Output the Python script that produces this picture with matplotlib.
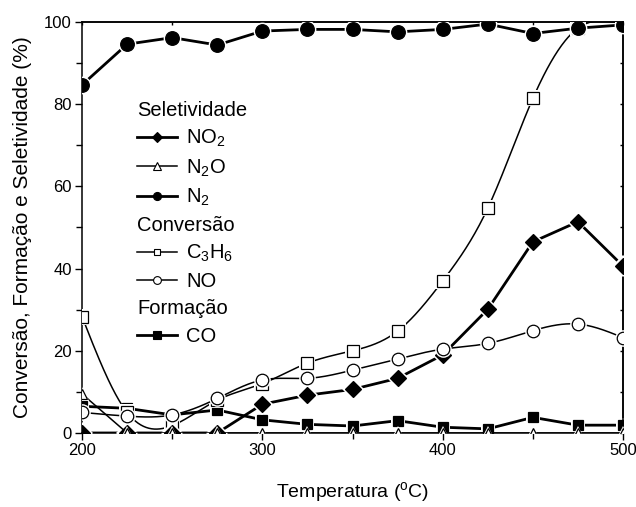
import numpy as np
import matplotlib
matplotlib.use("Agg")
import matplotlib.pyplot as plt
from matplotlib.lines import Line2D
from matplotlib.ticker import MultipleLocator
from matplotlib import transforms as mtransforms

plt.rcParams['font.family'] = ['Liberation Sans', 'DejaVu Sans']
plt.rcParams['mathtext.fontset'] = 'custom'
plt.rcParams['mathtext.rm'] = 'Liberation Sans'

# Temperatures (oC)
temperatura = [200, 225, 250, 275, 300, 325, 350, 375, 400, 425, 450, 475, 500]

# Selectivity (%)
sel_no2 = [0, 0, 0, 0, 7.0, 9.2, 10.6, 13.3, 19.0, 30.1, 46.5, 51.4, 40.6]
sel_n2o = [9.5, 0, 0, 0, 0, 0, 0, 0, 0, 0, 0, 0, 0]
sel_n2 = [84.7, 94.6, 96.2, 94.4, 97.8, 98.2, 98.2, 97.6, 98.2, 99.5, 97.2, 98.5, 99.3]

# Conversion (%)
conv_c3h6 = [28.3, 5.0, 1.8, 8.0, 12.0, 17.0, 20.0, 24.8, 37.0, 54.7, 81.4, 98.5, 99.5]
conv_no = [5.0, 4.1, 4.4, 8.4, 12.9, 13.3, 15.3, 18.0, 20.4, 21.8, 24.9, 26.5, 23.2]

# Formation (%)
form_co = [6.5, 6.0, 4.4, 5.6, 3.2, 2.1, 1.7, 3.0, 1.4, 1.0, 3.8, 1.9, 1.9]

legend_titles = ['Seletividade', 'Conversão', 'Formação']


def natural_spline(x, y, n=600):
    """Smooth connecting curve (natural cubic spline) through the points."""
    x = np.asarray(x, float)
    y = np.asarray(y, float)
    h = np.diff(x)
    m = len(x)
    A = np.zeros((m, m))
    r = np.zeros(m)
    A[0, 0] = A[-1, -1] = 1.0
    for i in range(1, m - 1):
        A[i, i - 1] = h[i - 1]
        A[i, i] = 2 * (h[i - 1] + h[i])
        A[i, i + 1] = h[i]
        r[i] = 6 * ((y[i + 1] - y[i]) / h[i] - (y[i] - y[i - 1]) / h[i - 1])
    M = np.linalg.solve(A, r)
    xs = np.linspace(x[0], x[-1], n)
    k = np.clip(np.searchsorted(x, xs) - 1, 0, m - 2)
    x0, x1 = x[k], x[k + 1]
    hh = x1 - x0
    t0, t1 = x1 - xs, xs - x0
    ys = (M[k] * t0 ** 3 / (6 * hh) + M[k + 1] * t1 ** 3 / (6 * hh)
          + (y[k] / hh - M[k] * hh / 6) * t0 + (y[k + 1] / hh - M[k + 1] * hh / 6) * t1)
    return xs, ys


fig = plt.figure(figsize=(6.36, 5.07), dpi=100)
ax = fig.add_axes([0.129, 0.146, 0.8506, 0.8106])


def draw_series(x, y, marker, ms, filled, lw, z, smooth=False):
    if smooth:
        xs, ys = natural_spline(x, y)
    else:
        xs, ys = x, y
    ax.plot(xs, ys, color='black', lw=lw, zorder=z, solid_capstyle='butt')
    # white gap between the connecting line and each symbol
    ax.plot(x, y, ls='none', marker=marker, ms=ms + 3.0, mfc='white',
            mec='white', mew=0, zorder=z + 0.3)
    ax.plot(x, y, ls='none', marker=marker, ms=ms,
            mfc='black' if filled else 'white', mec='black',
            mew=0.9, zorder=z + 0.6)


draw_series(temperatura, form_co, 's', 7.6, True, 2.0, 2)
draw_series(temperatura, conv_c3h6, 's', 8.0, False, 1.1, 3, smooth=True)
draw_series(temperatura, sel_no2, 'D', 8.6, True, 2.0, 4)
draw_series(temperatura, sel_n2o, '^', 7.5, False, 1.1, 5)
draw_series(temperatura, conv_no, 'o', 9.0, False, 1.1, 6, smooth=True)
draw_series(temperatura, sel_n2, 'o', 9.8, True, 2.0, 7)

ax.set_xlim(200, 500)
ax.set_ylim(0, 100)
ax.xaxis.set_major_locator(MultipleLocator(100))
ax.xaxis.set_minor_locator(MultipleLocator(50))
ax.yaxis.set_major_locator(MultipleLocator(20))
ax.yaxis.set_minor_locator(MultipleLocator(10))
ax.tick_params(which='major', direction='out', length=5, width=1.0,
               labelsize=12, pad=2.5)
ax.tick_params(which='minor', direction='out', length=4, width=1.0)
for s in ax.spines.values():
    s.set_linewidth(1.1)

# inward ticks on the opposite spines
sec_y = ax.secondary_yaxis('right')
sec_y.yaxis.set_major_locator(MultipleLocator(10))
sec_y.tick_params(direction='in', length=2.5, width=1.0, labelright=False)
sec_y.spines['right'].set_linewidth(1.1)
sec_x = ax.secondary_xaxis('top')
sec_x.xaxis.set_major_locator(MultipleLocator(50))
sec_x.tick_params(direction='in', length=2.5, width=1.0, labeltop=False)
sec_x.spines['top'].set_linewidth(1.1)

ax.set_xlabel('Temperatura ($^\\mathregular{o}$C)', fontsize=14)
ax.set_ylabel('Conversão, Formação e Seletividade (%)', fontsize=15)
ax.xaxis.set_label_coords(0.5, -0.115)
ax.yaxis.set_label_coords(-0.092, 0.5)

# legend grouped under section titles
blank = Line2D([], [], ls='none', marker='none')


def handle(marker, ms, filled, lw):
    return Line2D([], [], color='black', lw=lw, marker=marker, ms=ms,
                  mfc='black' if filled else 'white', mec='black', mew=0.8)


handles = [blank,
           handle('D', 5.6, True, 2.0),
           handle('^', 5.2, False, 1.1),
           handle('o', 5.8, True, 2.0),
           blank,
           handle('s', 4.8, False, 1.1),
           handle('o', 5.6, False, 1.1),
           blank,
           handle('s', 5.2, True, 2.0)]
labels = [legend_titles[0],
          'NO$_\\mathregular{2}$', 'N$_\\mathregular{2}$O', 'N$_\\mathregular{2}$',
          legend_titles[1],
          'C$_\\mathregular{3}$H$_\\mathregular{6}$', 'NO',
          legend_titles[2],
          'CO']
hl, htp, lfs = 2.0, 0.45, 14.5
leg = ax.legend(handles, labels, loc='upper left', bbox_to_anchor=(0.1017, 0.808),
                frameon=False, fontsize=lfs, handlelength=hl, handletextpad=htp,
                labelspacing=0.4, borderpad=0, borderaxespad=0, numpoints=1)
shift = mtransforms.ScaledTranslation(-(hl + htp) * lfs / 72.0, 0, fig.dpi_scale_trans)
for txt in leg.get_texts():
    if txt.get_text() in legend_titles:
        txt.set_transform(txt.get_transform() + shift)

fig.savefig('out.png', dpi=100)
